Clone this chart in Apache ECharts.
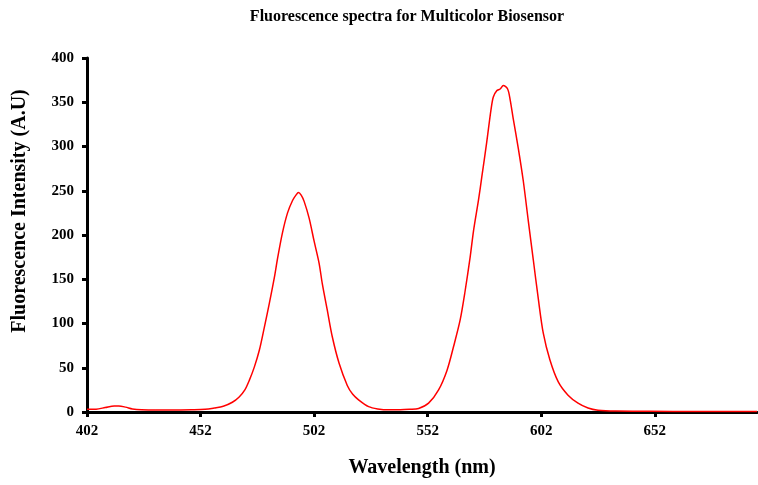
<!DOCTYPE html>
<html><head><meta charset="utf-8">
<script src="https://cdn.jsdelivr.net/npm/echarts@6/dist/echarts.min.js"></script>
<style>html,body{margin:0;padding:0;background:#fff}#c{width:758px;height:485px}</style>
</head><body><div id="c"></div>
<script>
var wavelengths = [402,406,410,414,416,419,422,426,432,440,448,454,458,462,466,469,471.5,473.5,475.7,477.9,480.1,482.3,484.5,486,488.1,490.3,492.5,494,495.1,496.3,497.6,499.8,502,504.2,505.6,507.8,510,513,516.6,519,521.7,526,530,535,540,544,548,552.4,556.8,560.5,563.4,566.3,568.5,570.7,572.2,574.4,575.8,578,579.9,580.9,582.4,583.9,585.3,587.2,588.3,589.7,591.9,594.1,596.3,598.5,600.7,602.9,605.8,609.5,613.8,618.2,622.6,627,635,650,670,697];
var intensity = [3,3.2,5,6.8,6.8,5.5,3.5,2.5,2.3,2.2,2.5,3,4.5,6.5,11,17,25,36,51,70,96,123,152,175,203,225,239,245,248,245,238,219,193,168,145,115,85,55,30,20,13.5,6,3.5,2.5,2.5,3,4,10,25,47,74,104,137,175,205,240,265,305,342,356,363,365,369,365,353,331,298,261,216,172,128,89,59,34,19,10,4.5,2,1,0.8,0.6,0.5];
var xTicks = [402,452,502,552,602,652];

var font = 'Liberation Serif';
var chart = echarts.init(document.getElementById('c'));
chart.setOption({
  animation:false,
  title:{text:'Fluorescence spectra for Multicolor Biosensor',left:402,top:4,textAlign:'center',
    textStyle:{fontFamily:font,fontWeight:'bold',fontSize:16,color:'#000'}},
  grid:{left:87,right:1,top:58,bottom:73,containLabel:false},
  xAxis:{type:'value',min:402,max:697,
    name:'Wavelength (nm)',nameLocation:'middle',nameGap:46,
    nameTextStyle:{fontFamily:font,fontWeight:'bold',fontSize:20,color:'#000'},
    axisLine:{lineStyle:{color:'#000',width:3}},
    axisTick:{customValues:xTicks,length:5,lineStyle:{color:'#000',width:3}},
    axisLabel:{customValues:xTicks,margin:12,fontFamily:font,fontWeight:'bold',fontSize:15,color:'#000'},
    splitLine:{show:false}},
  yAxis:{type:'value',min:0,max:400,interval:50,
    name:'Fluorescence Intensity (A.U)',nameLocation:'middle',nameGap:57,
    nameTextStyle:{fontFamily:font,fontWeight:'bold',fontSize:20,color:'#000',padding:[0,0,0,48]},
    axisLine:{show:true,lineStyle:{color:'#000',width:3}},
    axisTick:{show:true,length:5,lineStyle:{color:'#000',width:3}},
    axisLabel:{margin:13,fontFamily:font,fontWeight:'bold',fontSize:15,color:'#000'},
    splitLine:{show:false}},
  series:[{type:'line',data:wavelengths.map(function(w,i){return [w,intensity[i]];}),
    smooth:0.3,showSymbol:false,lineStyle:{color:'#ff0000',width:1.5},z:1}]
});
</script></body></html>
